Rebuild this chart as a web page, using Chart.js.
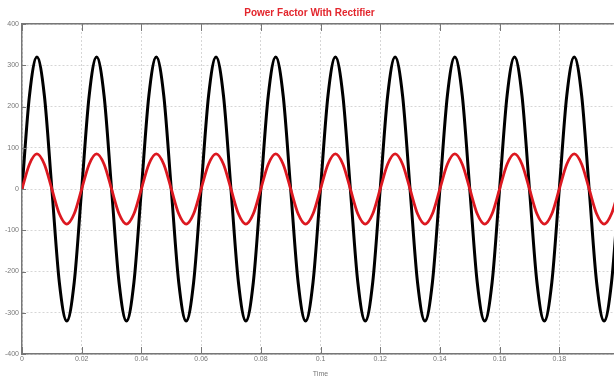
<!DOCTYPE html>
<html>
<head>
<meta charset="utf-8">
<script src="https://cdn.jsdelivr.net/npm/chart.js@4"></script>
<style>
  html, body { margin: 0; padding: 0; background: #fff; overflow: hidden; }
  #wrap { width: 620px; height: 378px; }
</style>
</head>
<body>
<div id="wrap"><canvas id="c"></canvas></div>
<script>
// Sample times (s), 8 samples per 50 Hz cycle
const timeSeconds = [
  0, 0.0025, 0.005, 0.0075, 0.01, 0.0125, 0.015, 0.0175,
  0.02, 0.0225, 0.025, 0.0275, 0.03, 0.0325, 0.035, 0.0375,
  0.04, 0.0425, 0.045, 0.0475, 0.05, 0.0525, 0.055, 0.0575,
  0.06, 0.0625, 0.065, 0.0675, 0.07, 0.0725, 0.075, 0.0775,
  0.08, 0.0825, 0.085, 0.0875, 0.09, 0.0925, 0.095, 0.0975,
  0.1, 0.1025, 0.105, 0.1075, 0.11, 0.1125, 0.115, 0.1175,
  0.12, 0.1225, 0.125, 0.1275, 0.13, 0.1325, 0.135, 0.1375,
  0.14, 0.1425, 0.145, 0.1475, 0.15, 0.1525, 0.155, 0.1575,
  0.16, 0.1625, 0.165, 0.1675, 0.17, 0.1725, 0.175, 0.1775,
  0.18, 0.1825, 0.185, 0.1875, 0.19, 0.1925, 0.195, 0.1975,
  0.2
];

// Supply voltage (black trace)
const voltage = [
  0, 226, 320, 226, 0, -226, -320, -226,
  0, 226, 320, 226, 0, -226, -320, -226,
  0, 226, 320, 226, 0, -226, -320, -226,
  0, 226, 320, 226, 0, -226, -320, -226,
  0, 226, 320, 226, 0, -226, -320, -226,
  0, 226, 320, 226, 0, -226, -320, -226,
  0, 226, 320, 226, 0, -226, -320, -226,
  0, 226, 320, 226, 0, -226, -320, -226,
  0, 226, 320, 226, 0, -226, -320, -226,
  0, 226, 320, 226, 0, -226, -320, -226,
  0
];

// Line current (red trace)
const current = [
  0, 60, 85, 60, 0, -60, -85, -60,
  0, 60, 85, 60, 0, -60, -85, -60,
  0, 60, 85, 60, 0, -60, -85, -60,
  0, 60, 85, 60, 0, -60, -85, -60,
  0, 60, 85, 60, 0, -60, -85, -60,
  0, 60, 85, 60, 0, -60, -85, -60,
  0, 60, 85, 60, 0, -60, -85, -60,
  0, 60, 85, 60, 0, -60, -85, -60,
  0, 60, 85, 60, 0, -60, -85, -60,
  0, 60, 85, 60, 0, -60, -85, -60,
  0
];

const xTickValues = [0, 0.02, 0.04, 0.06, 0.08, 0.1, 0.12, 0.14, 0.16, 0.18];
const xTickLabels = ['0', '0.02', '0.04', '0.06', '0.08', '0.1', '0.12', '0.14', '0.16', '0.18'];
const yTickValues = [400, 300, 200, 100, 0, -100, -200, -300, -400];
const yTickLabels = ['400', '300', '200', '100', '0', '-100', '-200', '-300', '-400'];

const toPoints = (ys) => timeSeconds.map((t, i) => ({ x: t, y: ys[i] }));

const tickFont = { family: 'Liberation Sans Narrow, Liberation Sans, Arial', size: 7 };

// Short inward tick marks on the box, drawn from the scales' own ticks
const inwardTicks = {
  id: 'inwardTicks',
  afterDraw(chart) {
    const { ctx, chartArea: a, scales: { x, y } } = chart;
    ctx.save();
    ctx.strokeStyle = '#777';
    ctx.lineWidth = 1;
    ctx.beginPath();
    x.ticks.forEach(t => {
      const px = Math.round(x.getPixelForValue(t.value)) + 0.5;
      ctx.moveTo(px, a.bottom); ctx.lineTo(px, a.bottom - 7);
      ctx.moveTo(px, a.top); ctx.lineTo(px, a.top + 7);
    });
    y.ticks.forEach(t => {
      const py = Math.round(y.getPixelForValue(t.value)) + 0.5;
      ctx.moveTo(a.left, py); ctx.lineTo(a.left + 4, py);
    });
    ctx.stroke();
    ctx.restore();
  }
};

new Chart(document.getElementById('c'), {
  type: 'line',
  data: {
    datasets: [
      {
        label: 'Current',
        data: toPoints(current),
        borderColor: '#dc1820',
        borderWidth: 2.8,
        pointRadius: 0,
        cubicInterpolationMode: 'monotone',
        fill: false,
        order: 0
      },
      {
        label: 'Voltage',
        data: toPoints(voltage),
        borderColor: '#000',
        borderWidth: 3,
        pointRadius: 0,
        cubicInterpolationMode: 'monotone',
        fill: false,
        order: 1
      }
    ]
  },
  options: {
    responsive: true,
    maintainAspectRatio: false,
    animation: false,
    layout: { padding: { left: 0, right: 1, top: 0, bottom: 0 } },
    plugins: {
      legend: { display: false },
      tooltip: { enabled: false },
      title: {
        display: true,
        text: 'Power Factor With Rectifier',
        color: '#e3262d',
        font: { family: 'Liberation Sans Narrow, Liberation Sans, Arial', size: 10, weight: 'bold' },
        padding: { top: 7, bottom: 5 }
      }
    },
    scales: {
      x: {
        type: 'linear',
        min: 0,
        max: 0.2,
        afterBuildTicks: (s) => { s.ticks = xTickValues.map(v => ({ value: v })); },
        afterFit: (s) => { s.height = 24; },
        ticks: {
          autoSkip: false,
          maxRotation: 0,
          padding: 1,
          color: '#777',
          font: tickFont,
          callback: (v) => xTickLabels[xTickValues.indexOf(v)]
        },
        grid: { color: '#d6d6d6', lineWidth: 1, drawTicks: false },
        border: { color: '#777', width: 1.5, dash: [2, 2] },
        title: { display: true, text: 'Time', color: '#777', font: tickFont, padding: { top: 2, bottom: 0 } }
      },
      xTop: {
        type: 'linear',
        position: 'top',
        min: 0,
        max: 0.2,
        ticks: { display: false },
        grid: { drawOnChartArea: false, drawTicks: false },
        border: { color: '#777', width: 1.5 },
        afterFit: (s) => { s.height = 0; }
      },
      y: {
        min: -400,
        max: 400,
        afterBuildTicks: (s) => { s.ticks = yTickValues.map(v => ({ value: v })); },
        afterFit: (s) => { s.width = 22; },
        ticks: {
          padding: 3,
          color: '#777',
          font: tickFont,
          callback: (v) => yTickLabels[yTickValues.indexOf(v)]
        },
        grid: { color: '#d6d6d6', lineWidth: 1, drawTicks: false },
        border: { color: '#777', width: 1.5, dash: [2, 2] }
      }
    }
  },
  plugins: [inwardTicks]
});
</script>
</body>
</html>
